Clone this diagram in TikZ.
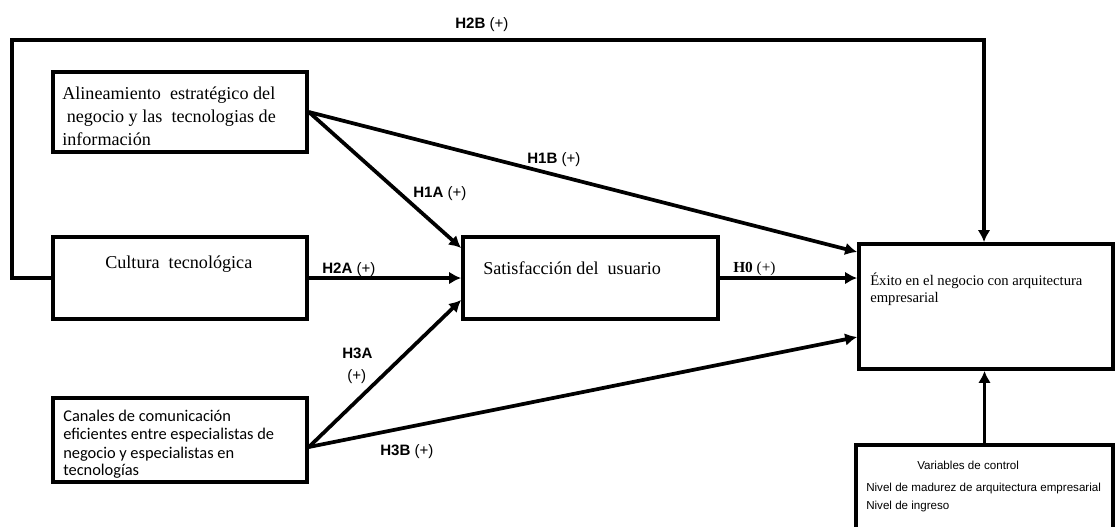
\documentclass[tikz,border=0pt]{standalone}
\usepackage{fontspec}
\setmainfont{Liberation Serif}
\newfontfamily\labfont{Liberation Sans}
\newfontfamily\calfont{Carlito}
\usetikzlibrary{arrows.meta,calc,fit}
\begin{document}
\begin{tikzpicture}[x=0.75pt,y=-0.75pt,
  box/.style={draw, line width=2.8pt, inner sep=0pt},
  conn/.style={line width=2.8pt, -{Latex[length=9pt,width=9.5pt]}},
  loopconn/.style={line width=2.6pt, line join=miter, -{Latex[length=9pt,width=9.5pt]}},
  lab/.style={anchor=base west, inner sep=0pt, font=\labfont\fontsize{11.3}{13}\selectfont},
  serifbig/.style={inner sep=0pt, font=\fontsize{13.6}{17.25}\selectfont},
  serifsm/.style={inner sep=0pt, font=\fontsize{11}{12.75}\selectfont},
  calt/.style={anchor=base west, inner sep=0pt, font=\calfont\fontsize{12.3}{13.5}\selectfont},
  vart/.style={anchor=base west, inner sep=0pt, font=\labfont\fontsize{8.7}{10}\selectfont}]
\clip (0,0) rectangle (1116,526);
\fill[white] (0,0) rectangle (1116,526);

% boxes
\node[box, fit={(53,72)(307,152)}] (al) {};
\node[box, fit={(53,237)(307,319)}] (cu) {};
\node[box, fit={(53,398)(307,482)}] (ca) {};
\node[box, fit={(463,237)(718,319)}] (sa) {};
\node[box, fit={(859,244)(1113,369)}] (ex) {};
\node[box, fit={(856,445)(1113,560)}] (va) {};

% box texts
\node[serifbig, anchor=base west] (t1a) at (62,99) {Alineamiento\ \ estratégico del};
\node[serifbig, anchor=base west] (t1b) at (62,122) {\ negocio y las\ \ tecnologias de};
\node[serifbig, anchor=base west] (t1c) at (62,145) {información};
\node[serifbig, anchor=base west] (t2) at (105,268) {Cultura\ \ tecnológica};
\node[serifbig, anchor=base west] (t3) at (483,274) {Satisfacción del\ \ usuario};
\node[serifsm, anchor=base west] (t4a) at (870,285) {Éxito en el negocio con arquitectura};
\node[serifsm, anchor=base west] (t4b) at (870,302) {empresarial};
\node[calt] (t5a) at (63,421) {Canales de comunicación};
\node[calt] (t5b) at (63,439) {eficientes entre especialistas de};
\node[calt] (t5c) at (63,458) {negocio y especialistas en};
\node[calt] (t5d) at (63,475) {tecnologías};
\node[vart] (t6a) at (917,469) {Variables de\ control};
\node[vart] (t6b) at (866,491) {Nivel de madurez de arquitectura empresarial};
\node[vart] (t6c) at (866,509) {Nivel de ingreso};

% connectors
\coordinate (tl) at (12,40);
\coordinate (tr) at (984,40);
\draw[loopconn] (cu.west) -| (tl) -| (tr |- ex.north);

\draw[conn] (al.east) -- (sa.west |- 0,248);
\draw[conn] (al.east) -- (ex.west |- 0,252);
\draw[conn] (cu.east) -- (sa.west);
\draw[conn] ($(ca.east)+(0,7)$) -- (sa.west |- 0,300);
\draw[conn] ($(ca.east)+(0,7)$) -- (ex.west |- 0,337);
\draw[conn] (sa.east) -- (ex.west |- sa.east);
\draw[conn] (va.north) -- (va.north |- ex.south);

% labels
\node[lab] (h2b) at (455,28) {\textbf{H2B} (+)};
\node[lab] (h1b) at (527,163) {\textbf{H1B} (+)};
\node[lab] (h1a) at (413,197) {\textbf{H1A} (+)};
\node[lab] (h2a) at (322,273) {\textbf{H2A} (+)};
\node[lab] (h3a) at (342,358) {\textbf{H3A}};
\node[lab] (h3ap) at (347,380) {(+)};
\node[lab] (h3b) at (380,455) {\textbf{H3B} (+)};
\node[anchor=base west, inner sep=0pt, font=\fontsize{11.5}{13}\selectfont] (h0) at (733,272) {\textbf{H0} (+)};
\end{tikzpicture}
\end{document}
